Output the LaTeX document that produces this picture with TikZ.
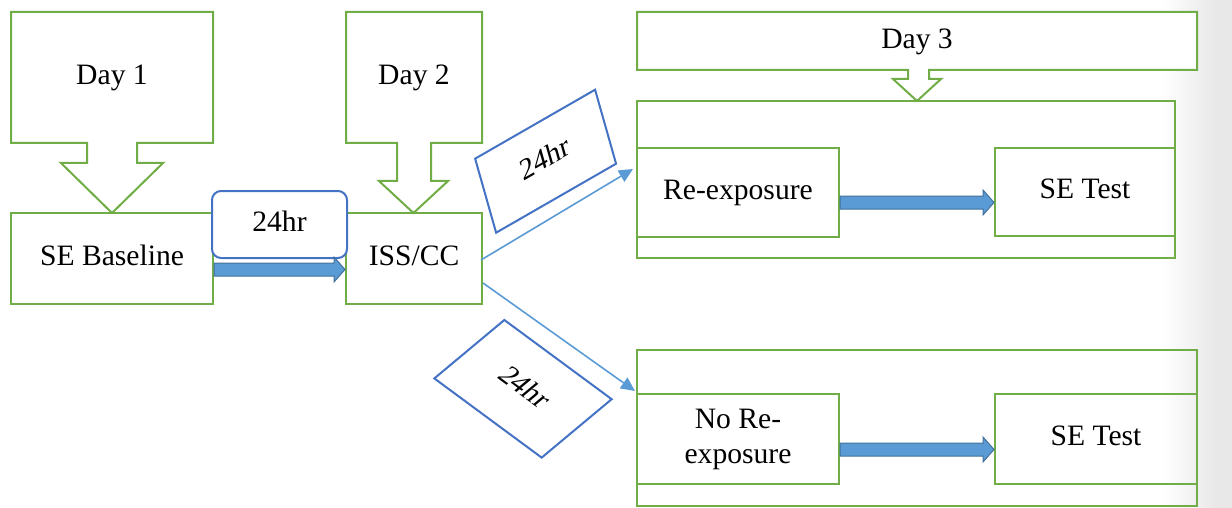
\documentclass[tikz,border=0pt]{standalone}
\usepackage{fontspec}
\setmainfont{Liberation Serif}
\usetikzlibrary{arrows.meta,calc}
\definecolor{grn}{HTML}{70AD47}
\definecolor{blu}{HTML}{4472C4}
\definecolor{lblu}{HTML}{5B9BD5}
\definecolor{dblu}{HTML}{41719C}
\newcommand\fatarrow[2]{\path[fill=lblu,draw=dblu,line width=0.5pt] let \p1=#1, \p2=#2 in
  (\x1,{\y1+3.25pt}) -- ({\x2-5.5pt},{\y1+3.25pt}) -- ({\x2-5.5pt},{\y1+6.25pt}) -- (\x2,\y1)
  -- ({\x2-5.5pt},{\y1-6.25pt}) -- ({\x2-5.5pt},{\y1-3.25pt}) -- (\x1,{\y1-3.25pt}) -- cycle;}
\begin{document}
\begin{tikzpicture}[x=0.5pt,y=-0.5pt,font=\fontsize{14.8}{17.5}\selectfont,
  gbox/.style={draw=grn,line width=1pt,inner sep=0pt,align=center,text height=0.8em,text depth=0.12em},
  plain/.style={inner sep=0pt,text height=0.8em,text depth=0.12em},
  callout/.style={draw=grn,line width=1pt,fill=white,line join=miter},
  hrbox/.style={draw=blu,line width=1pt,fill=white,inner sep=0pt,text height=0.8em,text depth=0.12em},
  thinarrow/.style={lblu,line width=0.8pt,-{Triangle[length=7pt,width=6.5pt]}}]
\useasboundingbox (0,0) rectangle (1232,508);
% right-hand grey band
\shade[left color=white,right color=black!9] (1162,0) rectangle (1215,508);
\fill[black!9] (1214.5,0) rectangle (1232,508);

% callout outlines
\draw[callout] (11,143) -- (11,12) -- (213,12) -- (213,143) -- (137,143) -- (137,163) -- (163,163)
  -- (112,213) -- (61,163) -- (87,163) -- (87,143) -- cycle;
\draw[callout] (346,143) -- (346,12) -- (482,12) -- (482,143) -- (431,143) -- (431,181) -- (448,181)
  -- (413.5,213) -- (379,181) -- (397,181) -- (397,143) -- cycle;
\draw[callout] (637,70) -- (637,12) -- (1197,12) -- (1197,70) -- (929,70) -- (929,79) -- (941,79)
  -- (917,101) -- (893,79) -- (908,79) -- (908,70) -- cycle;

\node[plain] (day1) at (112,77.5) {Day 1};
\node[plain] (day2) at (414,77.5) {Day 2};
\node[plain] (day3) at (917,42) {Day 3};

% boxes
\node[gbox,minimum width=101pt,minimum height=45.5pt] (base) at (112,258.5) {SE Baseline};
\node[gbox,minimum width=68pt,minimum height=45.5pt] (iss) at (414,258.5) {ISS/CC};
\node[gbox,minimum width=269pt,minimum height=78.5pt] (cont1) at (906,179.5) {};
\node[gbox,minimum width=101pt,minimum height=44.5pt] (reexp) at (738,192.5) {Re-exposure};
\node[gbox,minimum width=90pt,minimum height=44pt] (test1) at (1085,192) {SE Test};
\node[gbox,minimum width=280pt,minimum height=78pt] (cont2) at (917,428) {};
\node[draw=grn,line width=1pt,inner sep=0pt,align=center,minimum width=101pt,minimum height=45pt] (noreexp) at (738,439) {No Re-\\exposure};
\node[gbox,minimum width=101pt,minimum height=45pt] (test2) at (1096,439) {SE Test};

% 24hr labels
\node[hrbox,rounded corners=4.5pt,minimum width=67.5pt,minimum height=33.5pt] (hr1) at (279.5,224.5) {24hr};
\begin{scope}[shift={(545.6,161.2)},cm={0.882,0.507,-0.269,0.949,(0,0)},transform shape]
  \node[hrbox,minimum width=68pt,minimum height=39pt] (hr2) at (0,0) {24hr};
\end{scope}
\begin{scope}[shift={(523,388.8)},cm={0.801,-0.591,0.761,0.635,(0,0)},transform shape]
  \node[hrbox,minimum width=67pt,minimum height=46pt] (hr3) at (0,0) {24hr};
\end{scope}

% thick arrows
\fatarrow{($(base.east)+(0,11)$)}{($(iss.west)+(0,11)$)}
\fatarrow{($(reexp.east)+(0,10)$)}{($(test1.west)+(0,10.5)$)}
\fatarrow{($(noreexp.east)+(0,10.5)$)}{($(test2.west)+(0,10.5)$)}

% thin arrows
\draw[thinarrow] ($(iss.east)+(-2,1.5)$) -- ($(reexp.north west)+(-3,22)$);
\draw[thinarrow] ($(iss.east)+(0,24.5)$) -- ($(noreexp.north west)+(-1,-2)$);
\end{tikzpicture}
\end{document}
